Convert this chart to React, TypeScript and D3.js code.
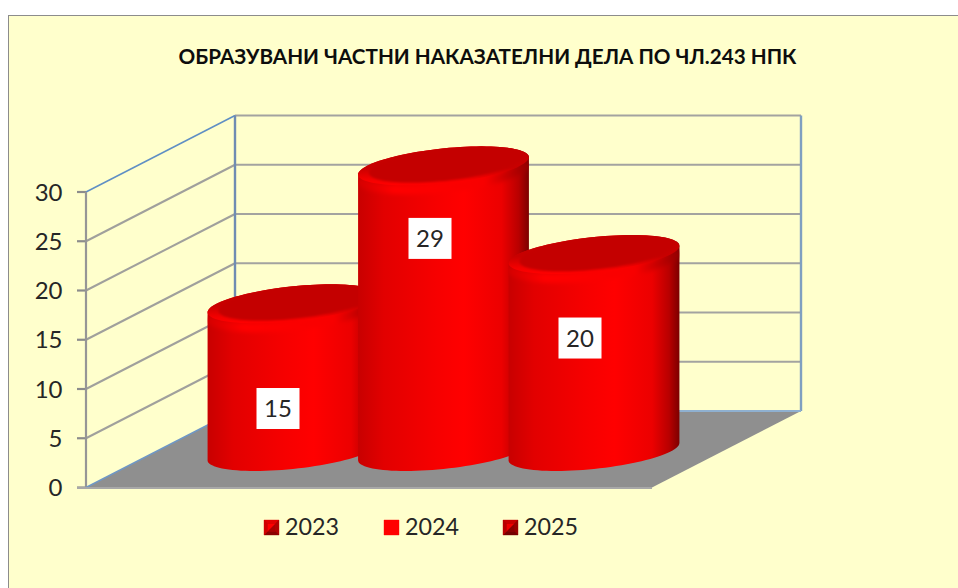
import React from "react";
import * as d3 from "d3";

const categories = ["2023", "2024", "2025"];
const values = [15, 29, 20];
const yTicks = [0, 5, 10, 15, 20, 25, 30];
const chartTitle = "ОБРАЗУВАНИ ЧАСТНИ НАКАЗАТЕЛНИ ДЕЛА ПО ЧЛ.243 НПК";

const W = 958, H = 588;
const frontL = 86, frontR = 652;
const depthX = 149, depthY = -76.5;
const y = d3.scaleLinear().domain([0, 30]).range([487.5, 192]);
const x = d3.scaleBand<string>().domain(categories).range([217.75, 669.25]);
const FONT = "Lato, 'Noto Sans', sans-serif";

// cylinder cross-section in the oblique projection
const A = 76.5, BX = 38, BY = 19.5;
const baseCy = y(0) - 36;
const t0 = Math.atan2(BX, A);
const pt = (cx: number, cy: number, t: number, k = 1): [number, number] => [
  cx + k * (A * Math.cos(t) + BX * Math.sin(t)),
  cy - k * BY * Math.sin(t),
];
const samples = (a: number, b: number, n = 48) => d3.range(n + 1).map((i) => a + ((b - a) * i) / n);
const line = d3.line<[number, number]>();
const ellipse = (cx: number, cy: number) =>
  line(samples(0, Math.PI * 2, 96).map((t) => pt(cx, cy, t))) + "Z";
// dark top face: touches the outer edge at the back, inset at the front
const topFace = (cx: number, cy: number) =>
  line(
    samples(0, Math.PI * 2, 96).map((t) => {
      const s = (Math.sin(t) + 1) / 2;
      return pt(cx, cy, t, 0.86 + 0.14 * s * s);
    })
  ) + "Z";
const bodyPath = (cx: number, topCy: number) => {
  const lower = samples(t0, t0 - Math.PI).map((t) => pt(cx, baseCy, t));
  const upper = samples(t0 + Math.PI, t0).map((t) => pt(cx, topCy, t));
  return line([...lower, ...upper]) + "Z";
};
const labelLift = [0.291, 0.746, 0.576];
const labelShift = [-15, -13.5, -14];

const swatch = (sx: number, sy: number, s: number, tones: string[], key: string) => {
  const i = 3.5;
  const pts = (a: number[][]) => a.map((p) => p.join(",")).join(" ");
  const outer = [[sx, sy], [sx + s, sy], [sx + s, sy + s], [sx, sy + s]];
  const inner = [[sx + i, sy + i], [sx + s - i, sy + i], [sx + s - i, sy + s - i], [sx + i, sy + s - i]];
  return (
    <g key={key}>
      <rect x={sx} y={sy} width={s} height={s} fill={tones[3]} />
      {[0, 1, 2, 3].map((j) => {
        const n = (j + 1) % 4;
        return <polygon key={j} points={pts([outer[j], outer[n], inner[n], inner[j]])} fill={tones[j]} stroke={tones[j]} strokeWidth={0.4} />;
      })}
      <rect x={sx + i} y={sy + i} width={s - 2 * i} height={s - 2 * i} fill={tones[5]} />
      <polygon points={pts([inner[0], inner[1], inner[3]])} fill={tones[4]} />
    </g>
  );
};

export default function App() {
  const backL = frontL + depthX, backR = frontR + depthX;
  const legendX = [264, 384, 503];
  const tones = [
    ["#e00000", "#b00000", "#8a0000", "#d00000", "#ff0000", "#a80000"],
    ["#ff0000", "#ff0000", "#ff0000", "#ff0000", "#ff0000", "#ff0000"],
    ["#c80000", "#980000", "#740000", "#b80000", "#f00000", "#880000"],
  ];
  return (
    <svg width={W} height={H} viewBox={`0 0 ${W} ${H}`} style={{ position: "absolute", left: 0, top: 0 }}>
      <defs>
        <linearGradient id="cyl" x1="0" x2="1" y1="0" y2="0">
          <stop offset="0" stopColor="#c80000" />
          <stop offset="0.15" stopColor="#e20000" />
          <stop offset="0.45" stopColor="#f60000" />
          <stop offset="0.62" stopColor="#ff0000" />
          <stop offset="0.84" stopColor="#ec0000" />
          <stop offset="0.94" stopColor="#b80000" />
          <stop offset="1" stopColor="#7c0000" />
        </linearGradient>
        <linearGradient id="rim" x1="0" x2="1" y1="0" y2="0">
          <stop offset="0" stopColor="#d80000" />
          <stop offset="0.2" stopColor="#ff0000" />
          <stop offset="0.75" stopColor="#f80000" />
          <stop offset="1" stopColor="#980000" />
        </linearGradient>
        <linearGradient id="capEdge" x1="0" x2="0" y1="0" y2="1">
          <stop offset="0" stopColor="#c40000" />
          <stop offset="0.55" stopColor="#c80000" />
          <stop offset="0.85" stopColor="#f40000" />
          <stop offset="1" stopColor="#ff0000" />
        </linearGradient>
        <filter id="soft" x="-10%" y="-30%" width="120%" height="160%">
          <feGaussianBlur stdDeviation="2.2" />
        </filter>
        <filter id="soft1" x="-5%" y="-10%" width="110%" height="120%">
          <feGaussianBlur stdDeviation="1.2" />
        </filter>
      </defs>
      <rect x={8.5} y={15.5} width={W + 10} height={H + 10} fill="#ffffcc" stroke="#8c8c8c" strokeWidth={1} />
      <text x={487.5} y={64} textAnchor="middle" fontFamily={FONT} fontWeight={700} fontSize={21} fill="#0d0d0d" textLength={618} lengthAdjust="spacingAndGlyphs">
        {chartTitle}
      </text>

      <polygon points={[[frontL, y(0)], [frontR, y(0)], [backR, y(0) + depthY], [backL, y(0) + depthY]].map((p) => p.join(",")).join(" ")} fill="#8f8f8f" />
      {yTicks.map((v) => (
        <g key={v}>
          {v > 0 && <line x1={backL} x2={backR} y1={y(v) + depthY} y2={y(v) + depthY} stroke="#a3a3a0" strokeWidth={2.2} />}
          {v > 0 && (
            <line x1={frontL} x2={backL} y1={y(v)} y2={y(v) + depthY} stroke={v === 30 ? "#5f8fc4" : "#a0a09c"} strokeWidth={v === 30 ? 1.5 : 2} />
          )}
          <line x1={frontL - 9} x2={frontL} y1={y(v)} y2={y(v)} stroke="#8c8c8c" strokeWidth={2.2} />
          <text x={62.5} y={y(v) + 8.5} textAnchor="end" fontFamily={FONT} fontSize={24} fill="#262626">{v}</text>
        </g>
      ))}
      <line x1={frontL} x2={frontL} y1={y(30)} y2={y(0)} stroke="#969696" strokeWidth={2.2} />
      <line x1={frontL} x2={backL} y1={y(0)} y2={y(0) + depthY} stroke="#6f97c4" strokeWidth={1.5} />
      <line x1={backL} x2={backL} y1={y(30) + depthY} y2={y(0) + depthY} stroke="#6f8cb2" strokeWidth={2.4} />
      <line x1={backR} x2={backR} y1={y(30) + depthY} y2={y(0) + depthY} stroke="#7f9fc0" strokeWidth={2.4} />
      <line x1={backL} x2={backR} y1={y(0) + depthY} y2={y(0) + depthY} stroke="#8fb0d0" strokeWidth={1.8} />
      <line x1={frontL - 9} x2={frontR} y1={y(0) + 0.5} y2={y(0) + 0.5} stroke="#a8a8a8" strokeWidth={1.8} />

      {categories.map((c, i) => {
        const cx = x(c)! + x.bandwidth() / 2;
        const h = y(0) - y(values[i]);
        const topCy = baseCy - h;
        const rim = samples(t0, t0 - Math.PI).map((t) => {
          const p = pt(cx, topCy, t, 0.97);
          return [p[0], p[1] + 5] as [number, number];
        });
        return (
          <g key={c}>
            <clipPath id={`clip${i}`}><path d={bodyPath(cx, topCy)} /></clipPath>
            <path d={bodyPath(cx, topCy)} fill="url(#cyl)" />
            <g clipPath={`url(#clip${i})`}>
              <path d={line(rim)!} fill="none" stroke="url(#rim)" strokeWidth={9} filter="url(#soft)" />
            </g>
            <path d={ellipse(cx, topCy)} fill="url(#capEdge)" />
            <clipPath id={`capClip${i}`}><path d={ellipse(cx, topCy)} /></clipPath>
            <g clipPath={`url(#capClip${i})`}>
              <path d={topFace(cx, topCy)} fill="#c40000" filter="url(#soft1)" />
            </g>
          </g>
        );
      })}
      {categories.map((c, i) => {
        const lx = x(c)! + x.bandwidth() / 2 + labelShift[i];
        const ly = baseCy - (y(0) - y(values[i])) * labelLift[i];
        return (
          <g key={c}>
            <rect x={lx - 21.5} y={ly - 20.5} width={43} height={41} fill="#ffffff" />
            <text x={lx} y={ly + 8.5} textAnchor="middle" fontFamily={FONT} fontSize={24} fill="#262626">{values[i]}</text>
          </g>
        );
      })}
      {categories.map((c, i) => (
        <g key={c}>
          {swatch(legendX[i], 520, 15, tones[i], c)}
          <text x={legendX[i] + 21} y={535} fontFamily={FONT} fontSize={24} fill="#262626" textLength={54} lengthAdjust="spacingAndGlyphs">{c}</text>
        </g>
      ))}
    </svg>
  );
}
